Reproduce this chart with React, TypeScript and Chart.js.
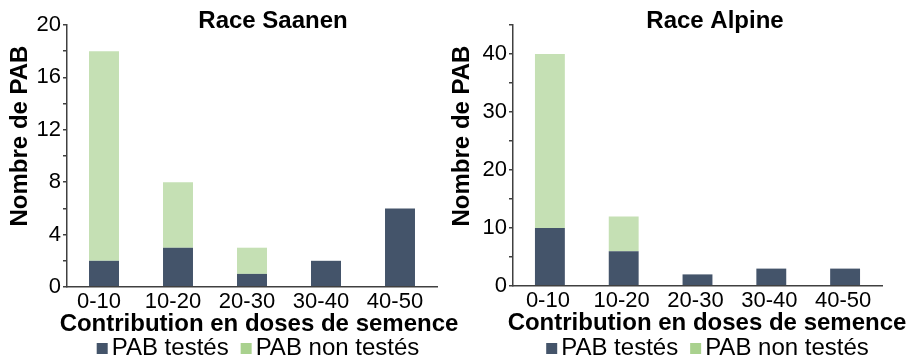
import React, { useEffect, useRef } from "react";
import { Chart, registerables } from "chart.js";

Chart.register(...registerables);

// ---------- data ----------
const categories = ["0-10", "10-20", "20-30", "30-40", "40-50"];
const seriesLabels = ["PAB testés", "PAB non testés"];
const saanenTested = [2, 3, 1, 2, 6];
const saanenUntested = [16, 5, 2, 0, 0];
const alpineTested = [10, 6, 2, 3, 3];
const alpineUntested = [30, 6, 0, 0, 0];
const panelTitles = ["Race Saanen", "Race Alpine"];
const yAxisTitle = "Nombre de PAB";
const xAxisTitle = "Contribution en doses de semence";
const saanenYMax = 20;
const saanenYStep = 2;
const saanenYLabelEvery = 4;
const alpineYMax = 45;
const alpineYStep = 5;
const alpineYLabelEvery = 10;

// ---------- style ----------
const DARK = "#44546a";
const LIGHT = "#c5e0b4";
const LEGEND_LIGHT = "#a9d18e";
const AXIS = "#404040";
const FONT = "'Liberation Sans', Arial, Helvetica, sans-serif";

const panelTextPlugin = {
  id: "panelText",
  afterDraw(chart: any, _args: any, opts: any) {
    const ctx = chart.ctx as CanvasRenderingContext2D;
    ctx.save();
    ctx.fillStyle = "#000";
    ctx.font = `bold 24px ${FONT}`;
    ctx.textAlign = "center";
    ctx.textBaseline = "alphabetic";
    ctx.fillText(opts.title, opts.titleX, opts.titleY);
    ctx.fillText(opts.xTitle, opts.xTitleX, opts.xTitleY);
    ctx.save();
    ctx.translate(opts.yTitleX, opts.yTitleY);
    ctx.rotate(-Math.PI / 2);
    ctx.fillText(opts.yTitle, 0, 0);
    ctx.restore();

    // legend
    ctx.font = `24px ${FONT}`;
    const items = chart.data.datasets.map((d: any, i: number) => ({
      label: d.label,
      color: opts.legendColors[i],
    }));
    const box = 11;
    const gapBox = 4;
    const gapItem = 12;
    const widths = items.map((it: any) => ctx.measureText(it.label).width);
    let total = 0;
    items.forEach((_: any, i: number) => {
      total += box + gapBox + widths[i];
    });
    total += gapItem * (items.length - 1);
    let x = opts.legendX - total / 2;
    ctx.textAlign = "left";
    items.forEach((it: any, i: number) => {
      ctx.fillStyle = it.color;
      ctx.fillRect(x, opts.legendY - 12, box, box);
      x += box + gapBox;
      ctx.fillStyle = "#000";
      ctx.fillText(it.label, x, opts.legendY);
      x += widths[i] + gapItem;
    });
    ctx.restore();
  },
};

function makeConfig(
  tested: number[],
  untested: number[],
  yMax: number,
  yStep: number,
  labelEvery: number,
  layoutOpts: any,
  textOpts: any
): any {
  return {
    type: "bar",
    data: {
      labels: categories,
      datasets: [
        {
          label: seriesLabels[0],
          data: tested,
          backgroundColor: DARK,
          borderWidth: 0,
          categoryPercentage: 1,
          barPercentage: 0.405,
        },
        {
          label: seriesLabels[1],
          data: untested,
          backgroundColor: LIGHT,
          borderWidth: 0,
          categoryPercentage: 1,
          barPercentage: 0.405,
        },
      ],
    },
    options: {
      responsive: false,
      animation: false,
      events: [],
      layout: {
        padding: {
          left: 0,
          right: layoutOpts.right,
          top: layoutOpts.top,
          bottom: layoutOpts.bottom,
        },
      },
      plugins: {
        legend: { display: false },
        title: { display: false },
        tooltip: { enabled: false },
        panelText: textOpts,
      },
      scales: {
        x: {
          stacked: true,
          grid: { display: false, drawTicks: false },
          border: { display: true, color: AXIS, width: 1.5, z: 1 },
          ticks: {
            color: "#000",
            font: { family: FONT, size: 22 },
            padding: 2,
            autoSkip: false,
            maxRotation: 0,
            labelOffset: layoutOpts.labelOffset,
          },
          afterFit: (s: any) => {
            s.height = layoutOpts.xHeight;
          },
        },
        y: {
          stacked: true,
          min: 0,
          max: yMax,
          grid: {
            drawOnChartArea: false,
            drawTicks: true,
            tickLength: 4,
            color: AXIS,
            lineWidth: 1.5,
          },
          border: { display: true, color: AXIS, width: 1.5 },
          ticks: {
            stepSize: yStep,
            autoSkip: false,
            color: "#000",
            font: { family: FONT, size: 22 },
            padding: 2,
            callback: (v: any) => (Number(v) % labelEvery === 0 ? String(v) : ""),
          },
          afterFit: (s: any) => {
            s.width = layoutOpts.yWidth;
          },
        },
      },
    },
    plugins: [panelTextPlugin],
  };
}

function Panel(props: { config: any; width: number; height: number; left: number }) {
  const ref = useRef<HTMLCanvasElement | null>(null);
  useEffect(() => {
    if (!ref.current) return;
    const chart = new Chart(ref.current, props.config);
    return () => chart.destroy();
  }, []);
  return (
    <canvas
      ref={ref}
      width={props.width}
      height={props.height}
      style={{
        position: "absolute",
        left: props.left,
        top: 0,
        width: props.width,
        height: props.height,
      }}
    />
  );
}

export default function App() {
  const saanen = makeConfig(
    saanenTested,
    saanenUntested,
    saanenYMax,
    saanenYStep,
    saanenYLabelEvery,
    { right: 23, top: 25, bottom: 43, xHeight: 30, yWidth: 67, labelOffset: -5 },
    {
      title: panelTitles[0],
      titleX: 273,
      titleY: 28,
      yTitle: yAxisTitle,
      yTitleX: 27,
      yTitleY: 136,
      xTitle: xAxisTitle,
      xTitleX: 259,
      xTitleY: 331,
      legendX: 258,
      legendY: 355,
      legendColors: [DARK, LEGEND_LIGHT],
    }
  );
  const alpine = makeConfig(
    alpineTested,
    alpineUntested,
    alpineYMax,
    alpineYStep,
    alpineYLabelEvery,
    { right: 24, top: 25, bottom: 44, xHeight: 30, yWidth: 73, labelOffset: -2 },
    {
      title: panelTitles[1],
      titleX: 275,
      titleY: 28,
      yTitle: yAxisTitle,
      yTitleX: 29,
      yTitleY: 136,
      xTitle: xAxisTitle,
      xTitleX: 267,
      xTitleY: 330,
      legendX: 267.5,
      legendY: 355,
      legendColors: [DARK, LEGEND_LIGHT],
    }
  );
  return (
    <div
      style={{
        position: "absolute",
        left: 0,
        top: 0,
        width: 906,
        height: 360,
        background: "#fff",
        overflow: "hidden",
      }}
    >
      <Panel config={saanen} width={460} height={360} left={0} />
      <Panel config={alpine} width={466} height={360} left={440} />
    </div>
  );
}
